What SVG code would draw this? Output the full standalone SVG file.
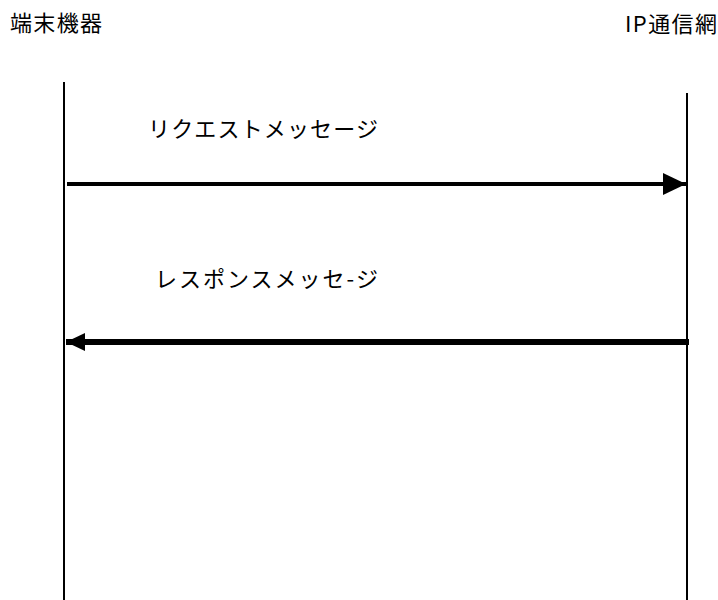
<svg xmlns="http://www.w3.org/2000/svg" width="718" height="600" viewBox="0 0 718 600">
<style>
text{font-family:"Noto Sans CJK JP","Liberation Sans",sans-serif;font-size:22px;fill:#000}
.life{stroke:#000;stroke-width:2;fill:none}
</style>
<defs>
<marker id="ah1" markerUnits="userSpaceOnUse" markerWidth="24" markerHeight="24" viewBox="0 0 24 24" refX="23" refY="12" orient="auto"><path d="M0,1 L23,12 L0,23 Z" fill="#000"/></marker>
<marker id="ah2" markerUnits="userSpaceOnUse" markerWidth="20" markerHeight="20" viewBox="0 0 20 20" refX="19" refY="10" orient="auto"><path d="M0,1 L19,10 L0,19 Z" fill="#000"/></marker>
</defs>
<rect width="718" height="600" fill="#fff"/>
<g id="terminal">
<text x="10" y="31" textLength="92" lengthAdjust="spacing">端末機器</text>
<line class="life" x1="64" y1="82" x2="64" y2="600"/>
</g>
<g id="ipnet">
<text x="625" y="32" textLength="92" lengthAdjust="spacing">IP通信網</text>
<line class="life" x1="687" y1="93" x2="687" y2="600"/>
</g>
<g id="connectors">
<line x1="67" y1="184" x2="686" y2="184" stroke="#000" stroke-width="4" marker-end="url(#ah1)"/>
<text x="148" y="137" textLength="230" lengthAdjust="spacing">リクエストメッセージ</text>
<line x1="689" y1="342" x2="66" y2="342" stroke="#000" stroke-width="6" marker-end="url(#ah2)"/>
<text x="155" y="287" textLength="223" lengthAdjust="spacing">レスポンスメッセ-ジ</text>
</g>
</svg>
